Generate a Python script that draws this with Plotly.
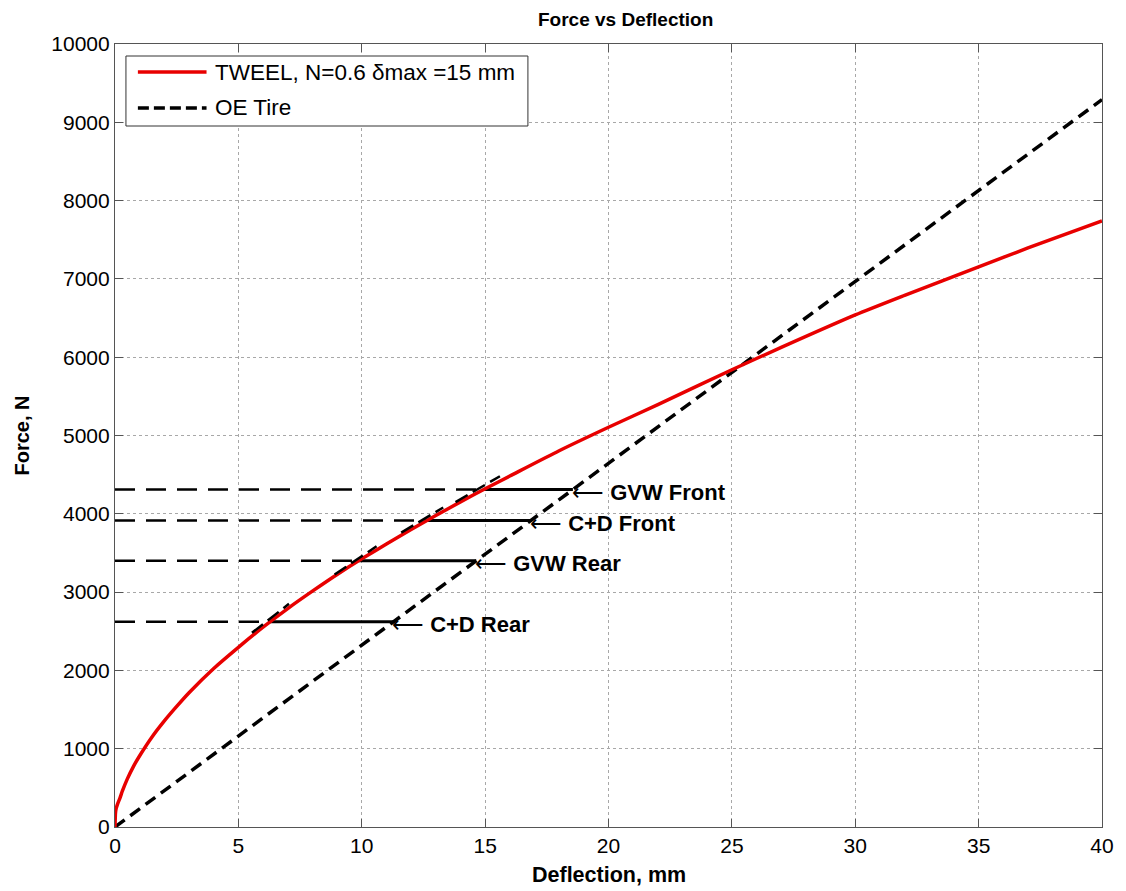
import numpy as np
import plotly.graph_objects as go

# ---- data ----
tweel_x = [0, 0.02, 0.05, 0.1, 0.2, 0.3, 0.5, 0.75, 1, 1.5, 2, 2.5, 3, 4, 5, 6, 7, 8, 9, 10,
           11, 12, 13, 14, 15, 16, 18, 20, 22, 25, 27, 30, 32, 35, 37, 40]
tweel_y = [0, 180, 240, 290, 370, 460, 615, 775, 910, 1150, 1355, 1540, 1715, 2025, 2295, 2552,
           2790, 3012, 3225, 3425, 3614, 3800, 3978, 4152, 4320, 4482, 4805, 5105, 5395, 5840,
           6125, 6540, 6790, 7155, 7395, 7740]
oe_x = [0, 40]
oe_y = [0, 9290]

load_labels = ["GVW Front", "C+D Front", "GVW Rear", "C+D Rear"]
load_levels = [4310, 3915, 3400, 2620]

# tangent segments drawn at each operating point (x0, y0, x1, y1)
tan_x0 = [13.8, 11.6, 8.9, 5.55]
tan_y0 = [4150, 3760, 3225, 2480]
tan_x1 = [15.6, 13.3, 10.6, 7.05]
tan_y1 = [4480, 4080, 3585, 2850]

x_ticks = [0, 5, 10, 15, 20, 25, 30, 35, 40]
y_ticks = [0, 1000, 2000, 3000, 4000, 5000, 6000, 7000, 8000, 9000, 10000]

FONT = "Arial, Liberation Sans, sans-serif"

fig = go.Figure()

# horizontal dashed lines from 0 to the TWEEL curve, solid lines to the OE line
for lbl, lev in zip(load_labels, load_levels):
    xr = float(np.interp(lev, tweel_y, tweel_x))
    xo = float(np.interp(lev, oe_y, oe_x))
    fig.add_trace(go.Scatter(x=[0, xr], y=[lev, lev], mode="lines",
                             line=dict(color="black", width=2.5, dash="20px,11px"),
                             showlegend=False, hoverinfo="skip"))
    fig.add_trace(go.Scatter(x=[xr, xo], y=[lev, lev], mode="lines",
                             line=dict(color="black", width=3),
                             showlegend=False, hoverinfo="skip"))
    fig.add_annotation(x=xo, y=lev, xref="x", yref="y",
                       text="\u27f5 <b>" + lbl + "</b>",
                       showarrow=False, xanchor="left", yanchor="middle", yshift=-3, xshift=-3,
                       font=dict(family=FONT, size=22, color="black"))

fig.add_trace(go.Scatter(x=oe_x, y=oe_y, mode="lines", name="OE Tire",
                         line=dict(color="black", width=3.5, dash="12px,7px"),
                         showlegend=False))
fig.add_trace(go.Scatter(x=tweel_x, y=tweel_y, mode="lines", name="TWEEL, N=0.6 \u03b4max =15 mm",
                         line=dict(color="#e80000", width=3.5, shape="spline", smoothing=0.6),
                         showlegend=False))

for a, b, c, d in zip(tan_x0, tan_y0, tan_x1, tan_y1):
    fig.add_trace(go.Scatter(x=[a, c], y=[b, d], mode="lines",
                             line=dict(color="black", width=2.5, dash="14px,6px"),
                             showlegend=False, hoverinfo="skip"))

# ---- manual legend box (MATLAB style) ----
L, R, T, B = 115, 1107, 44, 827
def px(xp):
    return (xp - L) / (R - L)
def py(yp):
    return (B - yp) / (B - T)

fig.add_shape(type="rect", xref="paper", yref="paper",
              x0=px(126), x1=px(530), y0=py(126), y1=py(56),
              line=dict(color="#333", width=1), fillcolor="white", layer="above")
fig.add_shape(type="line", xref="paper", yref="paper",
              x0=px(138), x1=px(207), y0=py(72), y1=py(72),
              line=dict(color="#e80000", width=3.5), layer="above")
fig.add_shape(type="line", xref="paper", yref="paper",
              x0=px(138), x1=px(207), y0=py(108), y1=py(108),
              line=dict(color="black", width=3.5, dash="11px,5px"), layer="above")
fig.add_annotation(xref="paper", yref="paper", x=px(213), y=py(72),
                   text="TWEEL, N=0.6 \u03b4max =15 mm", showarrow=False,
                   xanchor="left", yanchor="middle",
                   font=dict(family=FONT, size=22.5, color="black"))
fig.add_annotation(xref="paper", yref="paper", x=px(213), y=py(108),
                   text="OE Tire", showarrow=False,
                   xanchor="left", yanchor="middle",
                   font=dict(family=FONT, size=22.5, color="black"))

# ---- titles ----
fig.add_annotation(xref="paper", yref="paper", x=px(628), y=py(19), text="<b>Force vs Deflection</b>",
                   showarrow=False, xanchor="center", yanchor="middle",
                   font=dict(family=FONT, size=19, color="black"))
fig.add_annotation(xref="paper", yref="paper", x=px(611), y=py(875), text="<b>Deflection, mm</b>",
                   showarrow=False, xanchor="center", yanchor="middle",
                   font=dict(family=FONT, size=21.5, color="black"))
fig.add_annotation(xref="paper", yref="paper", x=px(22), y=py(435), text="<b>Force, N</b>",
                   showarrow=False, xanchor="center", yanchor="middle", textangle=-90,
                   font=dict(family=FONT, size=20, color="black"))

axis_common = dict(showline=True, linecolor="#555", linewidth=1.2, mirror="ticks",
                   ticks="inside", ticklen=8, tickcolor="#555",
                   showgrid=True, gridcolor="#a8a8a8", griddash="dot", gridwidth=1,
                   zeroline=False, tickfont=dict(family=FONT, size=21, color="black"))

fig.update_xaxes(range=[0, 40], tickvals=x_ticks, ticktext=[str(v) for v in x_ticks], **axis_common)
fig.update_yaxes(range=[0, 10000], tickvals=y_ticks, ticktext=[str(v) for v in y_ticks], **axis_common)

fig.update_layout(width=1126, height=891,
                  margin=dict(l=L, r=1126 - R, t=T, b=891 - B, pad=0),
                  plot_bgcolor="white", paper_bgcolor="white",
                  showlegend=False)

fig.write_html("out.html")
